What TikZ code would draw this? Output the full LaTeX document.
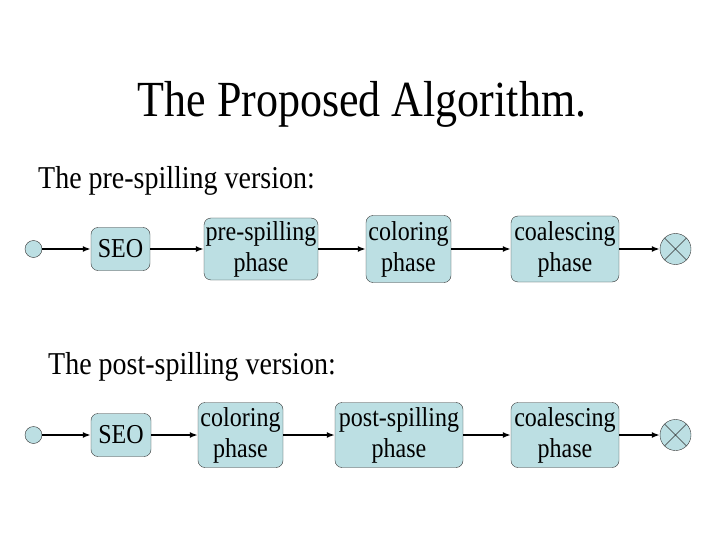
\documentclass[tikz,border=0pt]{standalone}
\usepackage{fontspec}
\setmainfont{Liberation Serif}
\newfontfamily\titlefont[FakeStretch=0.87]{Liberation Serif}
\newfontfamily\tallfont[FakeStretch=0.88]{Liberation Serif}
\usetikzlibrary{arrows.meta}
\definecolor{phasefill}{HTML}{BCDFE3}

\begin{document}
\begin{tikzpicture}[
  x=1pt, y=-1pt,
  phase/.style={rectangle, rounded corners=7pt, draw=black!80, fill=phasefill,
                inner sep=1pt, align=center, font=\tallfont\fontsize{27.3}{31}\selectfont},
  startdot/.style={circle, draw=black!80, fill=phasefill, minimum size=17pt, inner sep=0pt},
  enddot/.style={circle, draw=black!80, fill=phasefill, minimum size=31pt, inner sep=0pt},
  flow/.style={line width=1.6pt, -{Latex[length=8pt, width=6pt]}},
  title/.style={font=\titlefont\fontsize{50.6}{56}\selectfont, anchor=base},
  subtitle/.style={font=\tallfont\fontsize{31.8}{36}\selectfont, anchor=base west},
]
\useasboundingbox (0,0) rectangle (720,540);

\node[title] (head) at (362, 117) {The Proposed Algorithm.};
\node[subtitle, inner sep=0pt] (pretitle) at (38, 189) {The pre-spilling version:};
\node[subtitle, inner sep=0pt] (posttitle) at (48, 374) {The post-spilling version:};

% pre-spilling version
\node[startdot] (a0) at (33.5, 249) {};
\node[phase, minimum width=59pt, minimum height=43pt] (a1) at (120.5, 249) {SEO};
\node[phase, minimum width=114pt, minimum height=62pt] (a2) at (261, 249) {pre-spilling\\phase};
\node[phase, minimum width=85pt, minimum height=67pt] (a3) at (408.5, 249) {coloring\\phase};
\node[phase, minimum width=108pt, minimum height=66pt] (a4) at (565, 249) {coalescing\\phase};
\node[enddot] (a5) at (675.5, 249) {};
\draw[black!80] (a5.45) -- (a5.225) (a5.135) -- (a5.315);

\draw[flow] (a0) -- (a1);
\draw[flow] (a1) -- (a2);
\draw[flow] (a2) -- (a3);
\draw[flow] (a3) -- (a4);
\draw[flow] (a4) -- (a5);

% post-spilling version
\node[startdot] (b0) at (33.5, 435) {};
\node[phase, minimum width=60pt, minimum height=43pt] (b1) at (121, 435) {SEO};
\node[phase, minimum width=85pt, minimum height=65pt] (b2) at (240.5, 435) {coloring\\phase};
\node[phase, minimum width=128pt, minimum height=65pt] (b3) at (399, 435) {post-spilling\\phase};
\node[phase, minimum width=108pt, minimum height=65pt] (b4) at (565, 435) {coalescing\\phase};
\node[enddot] (b5) at (675.5, 435) {};
\draw[black!80] (b5.45) -- (b5.225) (b5.135) -- (b5.315);

\draw[flow] (b0) -- (b1);
\draw[flow] (b1) -- (b2);
\draw[flow] (b2) -- (b3);
\draw[flow] (b3) -- (b4);
\draw[flow] (b4) -- (b5);

\end{tikzpicture}
\end{document}
